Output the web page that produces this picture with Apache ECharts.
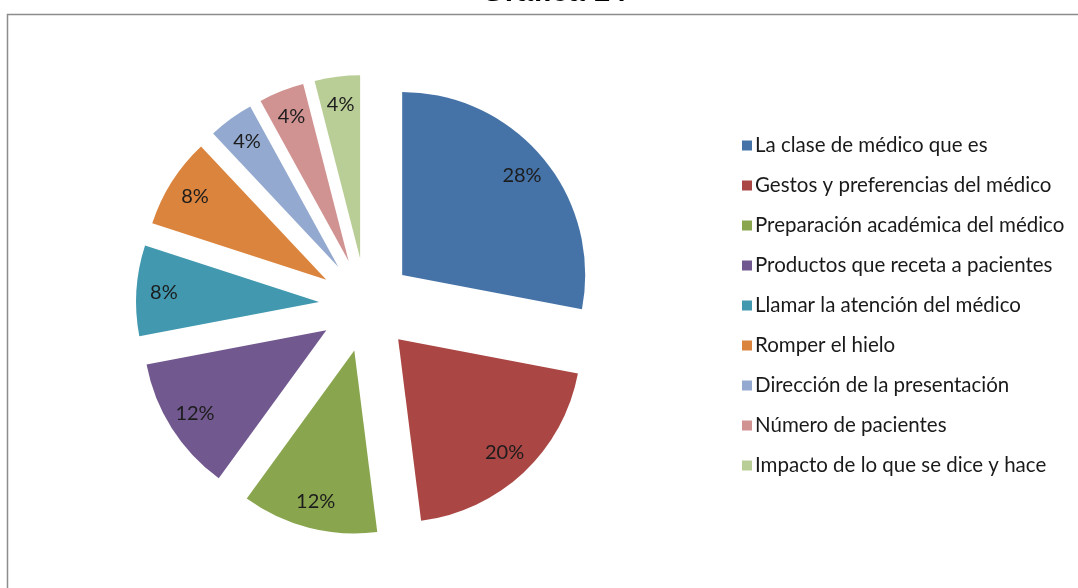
<!DOCTYPE html>
<html>
<head>
<meta charset="utf-8">
<script src="https://cdn.jsdelivr.net/npm/echarts@6/dist/echarts.min.js"></script>
<style>
  html, body { margin: 0; padding: 0; background: #fff; }
  #chart { width: 1078px; height: 588px; }
</style>
</head>
<body>
<div id="chart"></div>
<script>
// Factores señalados (porcentaje de respuestas)
const categories = [
  'La clase de médico que es',
  'Gestos y preferencias del médico',
  'Preparación académica del médico',
  'Productos que receta a pacientes',
  'Llamar la atención del médico',
  'Romper el hielo',
  'Dirección de la presentación',
  'Número de pacientes',
  'Impacto de lo que se dice y hace'
];
const percentages = [28, 20, 12, 12, 8, 8, 4, 4, 4];
const sliceColors = ['#4572A7', '#AA4643', '#89A54E', '#71588F', '#4198AF',
                     '#DB843D', '#93A9CF', '#D19392', '#B9CD96'];
const chartTitle = 'Gráfica 14';

const center = [366, 305];
const outerR = 183;
const explode = 47;
const font = 'Lato, "Liberation Sans", sans-serif';

const sliceData = categories.map((name, i) => ({
  name,
  value: percentages[i],
  selected: true,
  itemStyle: { color: sliceColors[i] }
}));

// Transparent ring that only carries the percentage labels near the rim
const labelData = categories.map((name, i) => ({
  name,
  value: percentages[i],
  selected: true
}));

const chart = echarts.init(document.getElementById('chart'), null, { renderer: 'canvas' });
chart.setOption({
  backgroundColor: '#ffffff',
  animation: false,
  title: {
    text: chartTitle,
    left: 550,
    textAlign: 'center',
    top: -26,
    padding: 4,
    textStyle: { fontFamily: 'Arial, "Liberation Sans", sans-serif', fontWeight: 'bold', fontSize: 30, color: '#000' }
  },
  graphic: [{
    type: 'rect',
    silent: true,
    shape: { x: 7.5, y: 14.5, width: 1200, height: 700 },
    style: { fill: 'none', stroke: '#8c8c8c', lineWidth: 1.5 }
  }],
  legend: {
    orient: 'vertical',
    left: 737,
    top: 130,
    icon: 'rect',
    itemWidth: 10,
    itemHeight: 10,
    itemGap: 19,
    selectedMode: false,
    data: categories,
    textStyle: { fontFamily: font, fontSize: 20.5, lineHeight: 20, color: '#1a1a1a', padding: [0, 0, 0, -2] }
  },
  series: [
    {
      type: 'pie',
      center: center,
      radius: [0, outerR],
      startAngle: 90,
      clockwise: true,
      selectedMode: 'multiple',
      selectedOffset: explode,
      silent: true,
      label: { show: false },
      labelLine: { show: false },
      emphasis: { disabled: true },
      data: sliceData
    },
    {
      type: 'pie',
      center: center,
      radius: [122, outerR],
      startAngle: 90,
      clockwise: true,
      selectedMode: 'multiple',
      selectedOffset: explode,
      silent: true,
      itemStyle: { color: 'rgba(0,0,0,0)' },
      label: {
        show: true,
        position: 'inside',
        formatter: '{c}%',
        fontFamily: font,
        fontSize: 20,
        color: '#1c1c1c'
      },
      labelLine: { show: false },
      emphasis: { disabled: true },
      data: labelData
    }
  ]
});
</script>
</body>
</html>
